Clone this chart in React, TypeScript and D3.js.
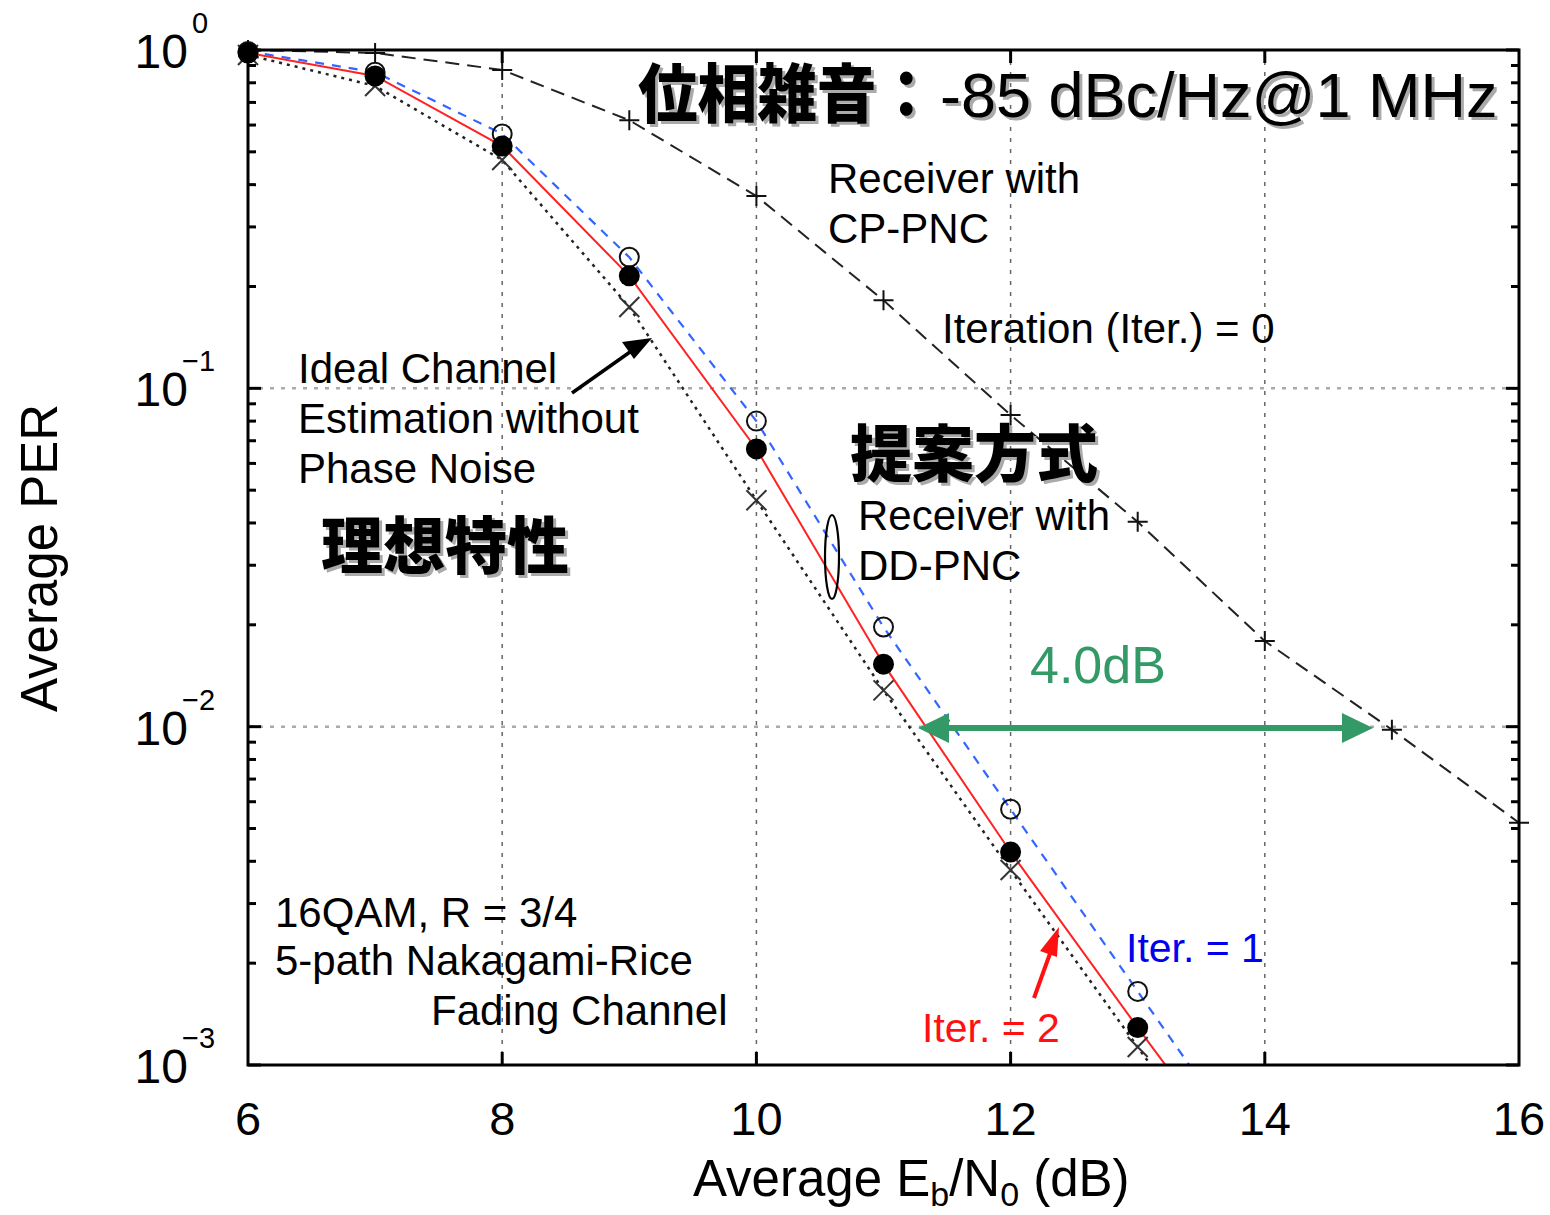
import React from "react";
import * as d3 from "d3";

// ---- data ----
const snrIter0 = [6, 7, 8, 9, 10, 11, 12, 13, 14, 15, 16];
const perIter0 = [1.0, 0.98, 0.873, 0.62, 0.37, 0.182, 0.0834, 0.0403, 0.0179, 0.0098, 0.0052];
const snr = [6, 7, 8, 9, 10, 11, 12, 13];
const perIter1 = [0.99, 0.86, 0.565, 0.244, 0.08, 0.0197, 0.0057, 0.00165];
const perIter2 = [0.98, 0.838, 0.52, 0.215, 0.0662, 0.0153, 0.00426, 0.00129];
const perIdeal = [0.967, 0.783, 0.473, 0.174, 0.0467, 0.0128, 0.00377, 0.00113];
const tailSnr = 13.5;
const tailIter1 = 8.9e-4;
const tailIter2 = 7.2e-4;
const tailIdeal = 6.2e-4;

const xTicks = [6, 8, 10, 12, 14, 16];
const xGrid = [8, 10, 12, 14];
const yDecades = [0, -1, -2, -3];
const yGrid = [0.1, 0.01];

const W = 1550;
const H = 1215;
const L = 248, R = 1519, T = 50, B = 1065;

const LATIN = "'Liberation Sans', Arial, Helvetica, sans-serif";
const CJK = "'Noto Sans CJK JP', 'Noto Sans CJK SC', sans-serif";

export default function App() {
  const x = d3.scaleLinear().domain([6, 16]).range([L, R]);
  const y = d3.scaleLog().domain([1e-3, 1]).range([B, T]);
  const line = d3
    .line<[number, number]>()
    .x((d) => x(d[0]))
    .y((d) => y(d[1]));

  const zip = (xs: number[], ys: number[]) => xs.map((v, i) => [v, ys[i]] as [number, number]);
  const d0 = zip(snrIter0, perIter0);
  const d1 = [...zip(snr, perIter1), [tailSnr, tailIter1] as [number, number]];
  const d2 = [...zip(snr, perIter2), [tailSnr, tailIter2] as [number, number]];
  const dI = [...zip(snr, perIdeal), [tailSnr, tailIdeal] as [number, number]];

  // minor ticks on log axis
  const minors: number[] = [];
  for (let e = -3; e < 0; e++) {
    for (let k = 2; k <= 9; k++) minors.push(k * Math.pow(10, e));
  }

  const shadowText = (
    txt: string,
    tx: number,
    ty: number,
    size: number,
    extra: any = {},
    family: string = CJK,
    weight: number = 900
  ) => (
    <g>
      <text x={tx + 3} y={ty + 3} fontFamily={family} fontWeight={weight} fontSize={size} fill="#aaa" {...extra}>
        {txt}
      </text>
      <text x={tx} y={ty} fontFamily={family} fontWeight={weight} fontSize={size} fill="#000" {...extra}>
        {txt}
      </text>
    </g>
  );

  const green = "#339966";

  return (
    <svg
      width={W}
      height={H}
      style={{ position: "absolute", left: 0, top: 0, background: "#fff" }}
      xmlns="http://www.w3.org/2000/svg"
    >
      <defs>
        <clipPath id="plotClip">
          <rect x={L} y={T - 15} width={R - L + 10} height={B - T + 15} />
        </clipPath>
      </defs>
      <rect x={0} y={0} width={W} height={H} fill="#fff" />

      {/* grid */}
      {xGrid.map((v) => (
        <line key={"gx" + v} x1={x(v)} x2={x(v)} y1={T} y2={B} stroke="#666" strokeWidth={1.5} strokeDasharray="4 7" />
      ))}
      {yGrid.map((v) => (
        <line key={"gy" + v} x1={L} x2={R} y1={y(v)} y2={y(v)} stroke="#aaa" strokeWidth={2.5} strokeDasharray="4 7" />
      ))}

      {/* series lines */}
      <g clipPath="url(#plotClip)" fill="none">
        <path d={line(d0) || ""} stroke="#222" strokeWidth={2} strokeDasharray="14 8" />
        <path d={line(dI) || ""} stroke="#222" strokeWidth={2.5} strokeDasharray="3 5" />
        <path d={line(d1) || ""} stroke="#3366ff" strokeWidth={2.2} strokeDasharray="9 8" />
        <path d={line(d2) || ""} stroke="#ff2222" strokeWidth={2} />
      </g>

      {/* markers */}
      <g>
        {d0.map(([a, b], i) => (
          <path
            key={"p" + i}
            d={`M${x(a) - 10},${y(b)}H${x(a) + 10}M${x(a)},${y(b) - 10}V${y(b) + 10}`}
            stroke="#111"
            strokeWidth={2}
          />
        ))}
        {zip(snr, perIdeal).map(([a, b], i) => (
          <path
            key={"x" + i}
            d={`M${x(a) - 10},${y(b) - 10}L${x(a) + 10},${y(b) + 10}M${x(a) - 10},${y(b) + 10}L${x(a) + 10},${y(b) - 10}`}
            stroke="#333"
            strokeWidth={2}
          />
        ))}
        {zip(snr, perIter1).map(([a, b], i) => (
          <circle key={"o" + i} cx={x(a)} cy={y(b)} r={9.5} fill="none" stroke="#111" strokeWidth={2} />
        ))}
        {zip(snr, perIter2).map(([a, b], i) => (
          <circle key={"f" + i} cx={x(a)} cy={y(b)} r={10.5} fill="#000" />
        ))}
      </g>

      {/* frame */}
      <rect x={L} y={T} width={R - L} height={B - T} fill="none" stroke="#000" strokeWidth={3} />

      {/* ticks */}
      {xGrid.map((v) => (
        <g key={"tx" + v}>
          <line x1={x(v)} x2={x(v)} y1={B} y2={B - 13} stroke="#000" strokeWidth={3} />
          <line x1={x(v)} x2={x(v)} y1={T} y2={T + 13} stroke="#000" strokeWidth={3} />
        </g>
      ))}
      {yDecades.map((e) => (
        <g key={"ty" + e}>
          <line x1={L} x2={L + 13} y1={y(Math.pow(10, e))} y2={y(Math.pow(10, e))} stroke="#000" strokeWidth={3} />
          <line x1={R} x2={R - 13} y1={y(Math.pow(10, e))} y2={y(Math.pow(10, e))} stroke="#000" strokeWidth={3} />
        </g>
      ))}
      {minors.map((v, i) => (
        <g key={"m" + i}>
          <line x1={L} x2={L + 8} y1={y(v)} y2={y(v)} stroke="#000" strokeWidth={3} />
          <line x1={R} x2={R - 8} y1={y(v)} y2={y(v)} stroke="#000" strokeWidth={3} />
        </g>
      ))}

      {/* tick labels */}
      {xTicks.map((v) => (
        <text key={"lx" + v} x={x(v)} y={1135} textAnchor="middle" fontFamily={LATIN} fontSize={47} fill="#000">
          {v}
        </text>
      ))}
      {yDecades.map((e) => (
        <g key={"ly" + e}>
          <text x={188} y={y(Math.pow(10, e)) + 18} textAnchor="end" fontFamily={LATIN} fontSize={48} fill="#000">
            10
          </text>
          <text x={e === 0 ? 192 : 182} y={y(Math.pow(10, e)) - 17} fontFamily={LATIN} fontSize={29} fill="#000">
            {e === 0 ? "0" : "\u2212" + -e}
          </text>
        </g>
      ))}

      {/* axis titles */}
      <text x={693} y={1196} fontFamily={LATIN} fontSize={51} fill="#000">
        Average E<tspan fontSize={34} dy={10}>b</tspan>
        <tspan dy={-10}>/N</tspan>
        <tspan fontSize={34} dy={10}>0</tspan>
        <tspan dy={-10}> (dB)</tspan>
      </text>
      <text
        transform="translate(57,558) rotate(-90)"
        textAnchor="middle"
        fontFamily={LATIN}
        fontSize={51}
        fill="#000"
      >
        Average PER
      </text>

      {/* annotations */}
      {shadowText("位相雑音：", 638, 117, 64, { textLength: 298, lengthAdjust: "spacingAndGlyphs" })}
      {shadowText("-85 dBc/Hz@1 MHz", 940, 117, 63, {}, LATIN, 400)}
      {shadowText("提案方式", 850, 477, 62)}
      {shadowText("理想特性", 321, 569, 62)}

      <g fontFamily={LATIN} fontSize={42} fill="#000">
        <text x={828} y={193}>Receiver with</text>
        <text x={828} y={243}>CP-PNC</text>
        <text x={942} y={343}>Iteration (Iter.) = 0</text>
        <text x={298} y={383}>Ideal Channel</text>
        <text x={298} y={433}>Estimation without</text>
        <text x={298} y={483}>Phase Noise</text>
        <text x={858} y={530}>Receiver with</text>
        <text x={858} y={580}>DD-PNC</text>
        <text x={275} y={927}>16QAM, R = 3/4</text>
        <text x={275} y={975}>5-path Nakagami-Rice</text>
        <text x={431} y={1025}>Fading Channel</text>
      </g>
      <text x={1126} y={962} fontFamily={LATIN} fontSize={41} fill="#0000ee">
        Iter. = 1
      </text>
      <text x={922} y={1042} fontFamily={LATIN} fontSize={41} fill="#ff1111">
        Iter. = 2
      </text>
      <text x={1030} y={683} fontFamily={LATIN} fontSize={52} fill={green}>
        4.0dB
      </text>

      {/* ellipse around DD-PNC curves */}
      <ellipse cx={832} cy={557} rx={7} ry={42} fill="none" stroke="#000" strokeWidth={2.2} />

      {/* black arrow */}
      <line x1={572} x2={630} y1={393} y2={352} stroke="#000" strokeWidth={3.5} />
      <path d="M652,338 L622,342 L634,359 Z" fill="#000" />

      {/* red arrow */}
      <line x1={1034} x2={1052} y1={998} y2={948} stroke="#ff1111" strokeWidth={4} />
      <path d="M1059,927 L1040,951 L1057,957 Z" fill="#ff1111" />

      {/* green double arrow */}
      <line x1={940} x2={1350} y1={728} y2={728} stroke={green} strokeWidth={6} />
      <path d="M918,728 L949,713 L949,743 Z" fill={green} />
      <path d="M1373,728 L1342,713 L1342,743 Z" fill={green} />
    </svg>
  );
}
